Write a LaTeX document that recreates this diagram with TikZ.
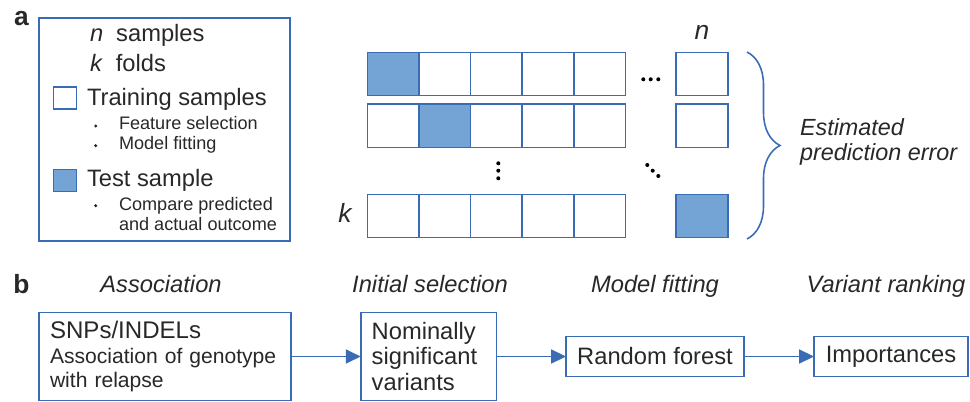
\documentclass[tikz,border=0pt]{standalone}
\usepackage{fontspec}
\setmainfont{Liberation Sans}
\usepackage{tikz}
\usetikzlibrary{arrows.meta,positioning,decorations.pathreplacing}
\definecolor{cvblue}{RGB}{58,108,182}
\definecolor{cvfill}{RGB}{116,164,213}
\definecolor{ink}{RGB}{40,40,40}
\newcommand{\txtL}{\fontsize{13.5}{15}\selectfont}
\newcommand{\txtM}{\fontsize{12}{13.4}\selectfont}
\newcommand{\txtS}{\fontsize{10.3}{11.3}\selectfont}
\newcommand{\txtXL}{\fontsize{15}{17}\selectfont}

\begin{document}
\begin{tikzpicture}[x=0.02cm,y=-0.02cm,>={Triangle[length=8.5pt,width=8pt]},
  every node/.style={text=ink,inner sep=0pt,outer sep=0pt},
  frame/.style={draw=cvblue,line width=0.9pt},
  cell/.style={frame,minimum width=1.032cm,minimum height=0.868cm},
  key/.style={frame,minimum width=0.46cm,minimum height=0.44cm},
  stage/.style={frame,align=left,minimum height=1.76cm},
  smallstage/.style={frame,minimum height=0.8cm},
  heading/.style={anchor=base,font=\txtL\itshape},
  item/.style={anchor=base west,font=\txtL},
  subitem/.style={anchor=base west,font=\txtS},
  test11/.style={fill=cvfill},
  test22/.style={fill=cvfill},
  testkn/.style={fill=cvfill}]
  \useasboundingbox (0,0) rectangle (970,402);

  % panel a: legend
  \node[font=\txtXL\bfseries,anchor=base] (lbla) at (21.5,26) {a};
  \node[frame,minimum width=5.02cm,minimum height=4.45cm] (legend) at (164.5,129.5) {};
  \node[item] (nsamp) at (90,41.7) {\textit{n}\hspace{0.55em}samples};
  \node[item] (kfold) at (90,71.7) {\textit{k}\hspace{0.55em}folds};
  \node[key] (trainkey) at (65,98) {};
  \node[item] (trainlbl) at (87,106) {Training samples};
  \node[subitem] (featsel) at (119,129.3) {Feature selection};
  \node[subitem] (modfit) at (119,149.3) {Model fitting};
  \node[key,fill=cvfill] (testkey) at (65,180.3) {};
  \node[item] (testlbl) at (87,186.7) {Test sample};
  \node[subitem] (cmppred) at (119,210.7) {Compare predicted};
  \node[subitem] (actual) at (119,230.7) {and actual outcome};
  \foreach \yb in {126,145.7,205.7}
    \fill[ink] (95.7,\yb) circle (0.95pt);

  % panel a: folds grid
  \foreach \r/\yc in {1/74,2/125.7,k/216}
    \foreach \c/\xc in {1/393.1,2/444.7,3/496.3,4/548,5/599.5,n/702}
      \node[cell,test\r\c/.try] (c\r\c) at (\xc,\yc) {};
  \node[anchor=base,font=\txtXL\itshape] (nlbl) at (702,40) {n};
  \node[anchor=base,font=\txtXL\itshape] (klbl) at (345,222) {k};
  \foreach \xd/\yd in {643.3/79.3,650.7/79.3,658.3/79.3,
                       498.3/163.3,498.3/170.7,498.3/178.3,
                       647.3/165,652.7/170.7,658.3/176}
    \fill[black] (\xd,\yd) circle (1.15pt);

  \coordinate (bracetop) at (747,52);
  \coordinate (bracebot) at (747,239);
  \draw[cvblue,line width=0.9pt,decorate,decoration={brace,amplitude=0.66cm}]
    (bracetop) -- (bracebot);
  \node[anchor=west,align=left,font=\fontsize{13.3}{14.2}\selectfont\itshape] (err)
    at (800,141.5) {Estimated\\prediction error};

  % panel b: pipeline
  \node[font=\txtXL\bfseries,anchor=base] (lblb) at (21.5,293) {b};
  \node[heading] (h1) at (161,292) {Association};
  \node[heading] (h2) at (430,292) {Initial selection};
  \node[heading] (h3) at (655,292) {Model fitting};
  \node[heading] (h4) at (886,292) {Variant ranking};

  \node[stage,minimum width=5.04cm,text width=4.6cm,font=\txtM] (assoc) at (165,356.5)
    {{\fontsize{13.7}{15}\selectfont SNPs/INDELs}\\[0.8pt]Association of genotype\\with relapse};
  \node[stage,minimum width=2.72cm,text width=2.28cm,font=\fontsize{13.5}{14.7}\selectfont] (nomsig) at (428.7,356.5)
    {Nominally\\significant\\variants};
  \node[smallstage,minimum width=3.56cm,font=\txtL] (forest) at (655,356.5) {Random forest};
  \node[smallstage,minimum width=3.08cm,font=\txtL] (imp) at (891,356.5) {Importances};

  \draw[->,cvblue,line width=0.9pt] (assoc) -- (nomsig);
  \draw[->,cvblue,line width=0.9pt] (nomsig) -- (forest);
  \draw[->,cvblue,line width=0.9pt] (forest) -- (imp);
\end{tikzpicture}
\end{document}
